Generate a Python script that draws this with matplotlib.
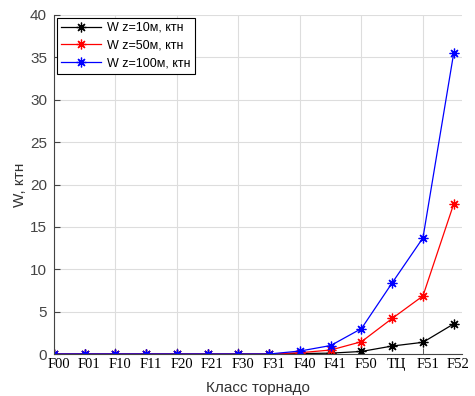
import matplotlib
matplotlib.use("Agg")
import matplotlib.pyplot as plt
import numpy as np

classes = ["F00", "F01", "F10", "F11", "F20", "F21", "F30", "F31",
           "F40", "F41", "F50", "ТЦ", "F51", "F52"]
w10 = [0, 0, 0, 0, 0, 0, 0, 0, 0.05, 0.1, 0.3, 0.94, 1.38, 3.55]
w50 = [0, 0, 0, 0, 0, 0, 0, 0, 0.15, 0.47, 1.45, 4.2, 6.85, 17.7]
w100 = [0, 0, 0, 0, 0, 0, 0, 0, 0.35, 1.0, 3.0, 8.4, 13.7, 35.5]
labels = ["W z=10м, ктн", "W z=50м, ктн", "W z=100м, ктн"]

plt.rcParams['font.family'] = ['Liberation Sans', 'DejaVu Sans']

fig = plt.figure(figsize=(4.75, 3.96), dpi=100)
ax = fig.add_axes([54/475, 42/396, 408/475, 339/396])

x = np.arange(len(classes))
star = (8, 2, 0)
for y, c, lab in zip([w10, w50, w100], ["black", "red", "blue"], labels):
    ax.plot(x, y, color=c, lw=0.9, marker=star, ms=7, mew=0.9, label=lab)

ax.set_xlim(0, 13.27)
ax.set_ylim(0, 40)
ax.set_yticks(np.arange(0, 41, 5))
ax.xaxis.remove_overlapping_locs = False
# category labels sit a bit to the right of their points
ax.set_xticks(x + 0.15)
ax.set_xticklabels(classes, family='Liberation Serif', fontsize=10.5, color='black')
ax.set_xticks(np.arange(0, 13, 2), minor=True)
ax.tick_params(axis='x', which='major', length=0, pad=3)
ax.tick_params(axis='x', which='minor', direction='in', length=4, color='#444444')
ax.tick_params(axis='y', direction='in', length=4, pad=5, labelsize=11,
               labelcolor='#444444', color='#444444')
ax.grid(True, which='minor', axis='x', color='#dddddd', lw=0.8)
ax.grid(True, which='major', axis='y', color='#dddddd', lw=0.8)
ax.set_axisbelow(True)
for s in ['top', 'right']:
    ax.spines[s].set_visible(False)
for s in ['left', 'bottom']:
    ax.spines[s].set_color('#444444')

ax.set_xlabel("Класс торнадо", fontsize=11, color='#333333', labelpad=7)
ax.set_ylabel("W, ктн", fontsize=11, color='#333333', labelpad=2)

leg = ax.legend(loc='upper left', fontsize=9, fancybox=False, framealpha=1,
                edgecolor='black', borderaxespad=0.2, handlelength=3.2,
                labelspacing=0.45, borderpad=0.35, handletextpad=0.5)
leg.get_frame().set_linewidth(0.8)

fig.savefig("out.png", dpi=100)
